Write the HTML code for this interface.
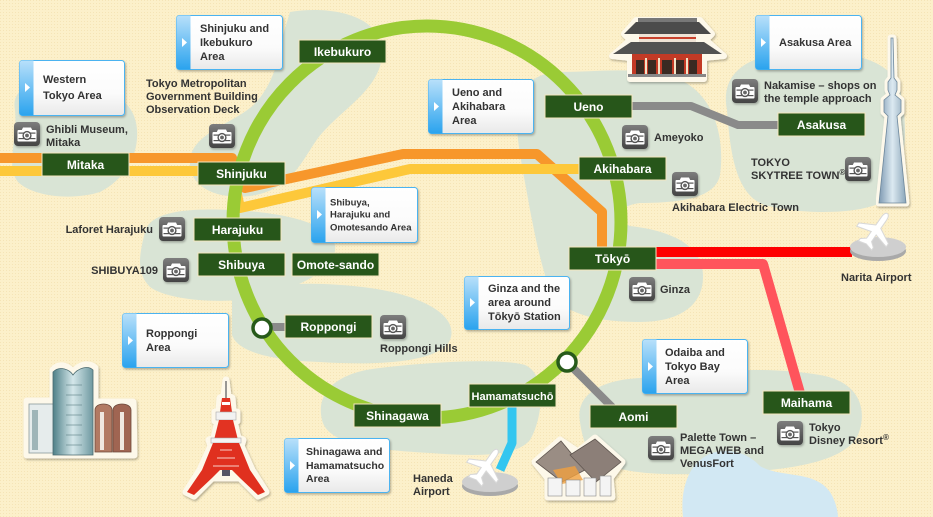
<!DOCTYPE html>
<html><head><meta charset="utf-8"><style>
html,body{margin:0;padding:0;background:#fcefc8;}
svg{display:block;}
text{font-family:"Liberation Sans",Arial,sans-serif;font-weight:bold;}
.st{fill:#fff;font-size:12px;text-anchor:middle;}
.bx{fill:#333;font-size:11px;}
.ds{fill:#333;font-size:11px;}
</style></head><body>
<svg width="933" height="517" viewBox="0 0 933 517" xmlns="http://www.w3.org/2000/svg">
<defs>
 <pattern id="dots" width="3" height="3" patternUnits="userSpaceOnUse"><rect width="3" height="3" fill="#fcf0ca"/><rect width="1" height="1" fill="#f5e4b6"/></pattern>
 <linearGradient id="strip" x1="0" y1="0" x2="0" y2="1"><stop offset="0" stop-color="#b8e0fa"/><stop offset="1" stop-color="#2aa3ee"/></linearGradient>
 <linearGradient id="boxg" x1="0" y1="0" x2="0" y2="1"><stop offset="0" stop-color="#ffffff"/><stop offset="0.6" stop-color="#fbfbfb"/><stop offset="1" stop-color="#e9e9e9"/></linearGradient>
 <linearGradient id="camg" x1="0" y1="0" x2="0" y2="1"><stop offset="0" stop-color="#7d7d7d"/><stop offset="1" stop-color="#434343"/></linearGradient>
 <linearGradient id="sky" x1="0" y1="0" x2="1" y2="0"><stop offset="0" stop-color="#7e9ab2"/><stop offset="0.5" stop-color="#dce9f1"/><stop offset="1" stop-color="#8aa5b9"/></linearGradient>
 <linearGradient id="rh" x1="0" y1="0" x2="1" y2="0"><stop offset="0" stop-color="#4f8088"/><stop offset="0.5" stop-color="#d4e7ea"/><stop offset="1" stop-color="#6e98a0"/></linearGradient>
 <filter id="sh" x="-10%" y="-10%" width="130%" height="140%"><feDropShadow dx="1" dy="1.5" stdDeviation="1" flood-color="#000" flood-opacity="0.28"/></filter>
 <g id="cam">
  <rect width="26" height="24" rx="4" fill="url(#camg)"/>
  <path d="M9,5.5 h8 l1.2,2.5 h3.3 a1,1 0 0 1 1,1 v9.5 a1,1 0 0 1 -1,1 h-17 a1,1 0 0 1 -1,-1 v-9.5 a1,1 0 0 1 1,-1 h3.3 z" fill="#fff"/>
  <rect x="4.5" y="10.5" width="17" height="1.2" fill="#555"/>
  <rect x="4.5" y="16" width="17" height="1.2" fill="#555"/>
  <circle cx="13" cy="13.5" r="4.6" fill="#555"/>
  <circle cx="13" cy="13.5" r="3.2" fill="#fff"/>
  <circle cx="13" cy="13.5" r="1.9" fill="#666"/>
 </g>
 <path id="plane" d="M0,-20 C2,-20 3,-17 3,-14 L3,-4 L18,4 L18,8 L3,4 L3,12 L8,16 L8,19 L0,17 L-8,19 L-8,16 L-3,12 L-3,4 L-18,8 L-18,4 L-3,-4 L-3,-14 C-3,-17 -2,-20 0,-20 Z"/>
</defs>

<rect width="933" height="517" fill="url(#dots)"/>

<!-- blobs -->
<g fill="#d9e4d5">
 <path d="M15,110 C10,85 40,78 70,82 C100,86 135,95 137,130 C139,160 120,182 100,192 C75,200 35,198 18,182 C5,165 18,140 15,110 Z"/>
 <path d="M290,12 C330,5 385,15 382,55 C380,90 340,110 318,138 C302,160 292,190 250,196 C215,200 188,186 190,160 C192,135 228,125 250,108 C270,92 280,60 283,35 Z"/>
 <path d="M145,232 C150,212 185,208 230,210 C280,212 330,222 335,245 C338,270 300,285 270,295 C235,305 170,302 150,287 C135,272 140,252 145,232 Z"/>
 <path d="M232,300 C250,283 310,280 370,288 C420,295 460,315 450,340 C440,362 380,366 320,362 C270,360 238,352 232,335 Z"/>
 <path d="M322,420 C315,390 340,372 380,368 C430,362 500,358 525,365 C548,375 542,420 530,440 C515,458 470,456 430,453 C380,450 328,446 322,420 Z"/>
 <path d="M580,422 C575,395 600,380 640,378 C700,372 760,365 820,375 C860,382 868,410 858,435 C845,462 790,470 730,473 C680,475 640,476 610,466 C587,456 583,442 580,422 Z"/>
 <path d="M517,130 C510,95 530,72 560,72 C600,72 640,65 680,80 C715,95 725,140 720,175 C716,195 690,203 640,203 C618,206 612,218 630,226 C665,230 702,242 703,275 C704,305 680,322 640,322 C600,322 562,315 550,290 C540,262 535,235 530,210 C525,180 520,160 517,130 Z"/>
 <path d="M727,110 C720,75 745,55 790,53 C840,50 890,55 900,90 C910,130 905,175 885,200 C865,215 800,215 765,205 C735,195 730,150 727,110 Z"/>
</g>
<!-- water -->
<path d="M683,517 C680,490 688,462 712,453 C732,447 750,455 760,466 C780,478 815,470 830,492 C838,505 838,517 838,517 Z" fill="#d2e8f3"/>

<!-- rail lines -->
<g fill="none" stroke-linejoin="round">
 <path d="M0,158 L232,158 L245,188 L403,154 L537,154 L602,212 L602,252" stroke="#f7972b" stroke-width="10"/>
 <path d="M0,171 L232,171 L240,208 L410,169 L582,169" stroke="#fdc83a" stroke-width="10"/>
 <path d="M630,106 L691,106 L738,125 L780,125" stroke="#8a8a8a" stroke-width="8"/>
 <path d="M262,327 L290,327" stroke="#8a8a8a" stroke-width="8"/>
 <path d="M567,362 L615,410" stroke="#8a8a8a" stroke-width="8"/>
 <path d="M654,252 L852,252" stroke="#fe0000" stroke-width="10"/>
 <path d="M654,264 L763,264 L800,393" stroke="#ff545c" stroke-width="10"/>
 <path d="M512,405 L512,443 L500,470" stroke="#33c6f0" stroke-width="9"/>
</g>

<!-- ring -->
<ellipse cx="427" cy="222" rx="194" ry="196" fill="none" stroke="#9acb35" stroke-width="13"/>

<!-- station dots -->
<circle cx="262" cy="328" r="9" fill="#fff" stroke="#275a1a" stroke-width="3.5"/>
<circle cx="567" cy="362" r="9" fill="#fff" stroke="#275a1a" stroke-width="3.5"/>

<!-- station labels -->
<g fill="#27561a" stroke="#f4e6bf" stroke-width="1">
 <rect x="299" y="40" width="87" height="23"/>
 <rect x="42" y="153" width="87" height="23"/>
 <rect x="198" y="162" width="87" height="23"/>
 <rect x="545" y="95" width="87" height="23"/>
 <rect x="579" y="157" width="87" height="23"/>
 <rect x="194" y="218" width="87" height="23"/>
 <rect x="198" y="253" width="87" height="23"/>
 <rect x="292" y="253" width="87" height="23"/>
 <rect x="285" y="315" width="87" height="23"/>
 <rect x="569" y="247" width="87" height="23"/>
 <rect x="469" y="384" width="87" height="23"/>
 <rect x="354" y="404" width="87" height="23"/>
 <rect x="590" y="405" width="87" height="23"/>
 <rect x="763" y="391" width="87" height="23"/>
 <rect x="778" y="113" width="87" height="23"/>
</g>
<g class="st">
 <text x="342.5" y="56">Ikebukuro</text>
 <text x="85.5" y="169">Mitaka</text>
 <text x="241.5" y="178">Shinjuku</text>
 <text x="588.5" y="111">Ueno</text>
 <text x="622.5" y="173">Akihabara</text>
 <text x="237.5" y="234">Harajuku</text>
 <text x="241.5" y="269">Shibuya</text>
 <text x="335.5" y="269">Omote-sando</text>
 <text x="328.5" y="331">Roppongi</text>
 <text x="612.5" y="263">Tōkyō</text>
 <text x="512.5" y="400" style="font-size:11px">Hamamatsuchō</text>
 <text x="397.5" y="420">Shinagawa</text>
 <text x="633.5" y="421">Aomi</text>
 <text x="806.5" y="407">Maihama</text>
 <text x="821.5" y="129">Asakusa</text>
</g>

<!-- info boxes -->
<g filter="url(#sh)">
 <g transform="translate(19,60)"><rect x="0.5" y="0.5" width="105" height="55" rx="3" fill="url(#boxg)" stroke="#4cb3f0"/><path d="M0.5,3.5 a3,3 0 0 1 3,-3 h11 v55 h-11 a3,3 0 0 1 -3,-3 z" fill="url(#strip)"/><path d="M6,23 L11,27.5 L6,32 Z" fill="#fff"/></g>
 <g transform="translate(176,15)"><rect x="0.5" y="0.5" width="106" height="54" rx="3" fill="url(#boxg)" stroke="#4cb3f0"/><path d="M0.5,3.5 a3,3 0 0 1 3,-3 h11 v54 h-11 a3,3 0 0 1 -3,-3 z" fill="url(#strip)"/><path d="M6,23 L11,27.5 L6,32 Z" fill="#fff"/></g>
 <g transform="translate(428,79)"><rect x="0.5" y="0.5" width="105" height="54" rx="3" fill="url(#boxg)" stroke="#4cb3f0"/><path d="M0.5,3.5 a3,3 0 0 1 3,-3 h11 v54 h-11 a3,3 0 0 1 -3,-3 z" fill="url(#strip)"/><path d="M6,23 L11,27.5 L6,32 Z" fill="#fff"/></g>
 <g transform="translate(755,15)"><rect x="0.5" y="0.5" width="106" height="54" rx="3" fill="url(#boxg)" stroke="#4cb3f0"/><path d="M0.5,3.5 a3,3 0 0 1 3,-3 h11 v54 h-11 a3,3 0 0 1 -3,-3 z" fill="url(#strip)"/><path d="M6,23 L11,27.5 L6,32 Z" fill="#fff"/></g>
 <g transform="translate(311,187)"><rect x="0.5" y="0.5" width="106" height="55" rx="3" fill="url(#boxg)" stroke="#4cb3f0"/><path d="M0.5,3.5 a3,3 0 0 1 3,-3 h11 v55 h-11 a3,3 0 0 1 -3,-3 z" fill="url(#strip)"/><path d="M6,23 L11,27.5 L6,32 Z" fill="#fff"/></g>
 <g transform="translate(464,276)"><rect x="0.5" y="0.5" width="105" height="53" rx="3" fill="url(#boxg)" stroke="#4cb3f0"/><path d="M0.5,3.5 a3,3 0 0 1 3,-3 h11 v53 h-11 a3,3 0 0 1 -3,-3 z" fill="url(#strip)"/><path d="M6,22 L11,26.5 L6,31 Z" fill="#fff"/></g>
 <g transform="translate(122,313)"><rect x="0.5" y="0.5" width="106" height="54" rx="3" fill="url(#boxg)" stroke="#4cb3f0"/><path d="M0.5,3.5 a3,3 0 0 1 3,-3 h11 v54 h-11 a3,3 0 0 1 -3,-3 z" fill="url(#strip)"/><path d="M6,23 L11,27.5 L6,32 Z" fill="#fff"/></g>
 <g transform="translate(642,339)"><rect x="0.5" y="0.5" width="105" height="54" rx="3" fill="url(#boxg)" stroke="#4cb3f0"/><path d="M0.5,3.5 a3,3 0 0 1 3,-3 h11 v54 h-11 a3,3 0 0 1 -3,-3 z" fill="url(#strip)"/><path d="M6,23 L11,27.5 L6,32 Z" fill="#fff"/></g>
 <g transform="translate(284,438)"><rect x="0.5" y="0.5" width="105" height="54" rx="3" fill="url(#boxg)" stroke="#4cb3f0"/><path d="M0.5,3.5 a3,3 0 0 1 3,-3 h11 v54 h-11 a3,3 0 0 1 -3,-3 z" fill="url(#strip)"/><path d="M6,23 L11,27.5 L6,32 Z" fill="#fff"/></g>
</g>
<g class="bx">
 <text x="43" y="83">Western</text><text x="43" y="99">Tokyo Area</text>
 <text x="200" y="32">Shinjuku and</text><text x="200" y="46">Ikebukuro</text><text x="200" y="60">Area</text>
 <text x="452" y="96">Ueno and</text><text x="452" y="110">Akihabara</text><text x="452" y="124">Area</text>
 <text x="779" y="46">Asakusa Area</text>
 <text x="330" y="205.5" style="font-size:9.5px">Shibuya,</text><text x="330" y="217.5" style="font-size:9.5px">Harajuku and</text><text x="330" y="230.5" style="font-size:9.5px">Omotesando Area</text>
 <text x="488" y="292">Ginza and the</text><text x="488" y="306">area around</text><text x="488" y="320">Tōkyō Station</text>
 <text x="146" y="337">Roppongi</text><text x="146" y="351">Area</text>
 <text x="665" y="356">Odaiba and</text><text x="665" y="370">Tokyo Bay</text><text x="665" y="384">Area</text>
 <text x="306" y="455" style="font-size:10.5px">Shinagawa and</text><text x="306" y="469" style="font-size:10.5px">Hamamatsucho</text><text x="306" y="482" style="font-size:10.5px">Area</text>
</g>

<!-- cameras -->
<g filter="url(#sh)">
 <use href="#cam" x="14" y="122"/>
 <use href="#cam" x="209" y="124"/>
 <use href="#cam" x="622" y="125"/>
 <use href="#cam" x="672" y="172"/>
 <use href="#cam" x="732" y="79"/>
 <use href="#cam" x="845" y="157"/>
 <use href="#cam" x="159" y="217"/>
 <use href="#cam" x="163" y="258"/>
 <use href="#cam" x="380" y="315"/>
 <use href="#cam" x="629" y="277"/>
 <use href="#cam" x="648" y="436"/>
 <use href="#cam" x="777" y="421"/>
</g>

<!-- descriptions -->
<g class="ds">
 <text x="146" y="87">Tokyo Metropolitan</text><text x="146" y="100">Government Building</text><text x="146" y="113">Observation Deck</text>
 <text x="46" y="133">Ghibli Museum,</text><text x="46" y="146">Mitaka</text>
 <text x="764" y="89">Nakamise – shops on</text><text x="764" y="102">the temple approach</text>
 <text x="654" y="141">Ameyoko</text>
 <text x="751" y="166">TOKYO</text><text x="751" y="179">SKYTREE TOWN<tspan font-size="8" dy="-4">®</tspan></text>
 <text x="672" y="211">Akihabara Electric Town</text>
 <text x="153" y="233" text-anchor="end">Laforet Harajuku</text>
 <text x="158" y="274" text-anchor="end">SHIBUYA109</text>
 <text x="380" y="352">Roppongi Hills</text>
 <text x="660" y="293">Ginza</text>
 <text x="841" y="281">Narita Airport</text>
 <text x="413" y="482">Haneda</text><text x="413" y="495">Airport</text>
 <text x="680" y="441">Palette Town –</text><text x="680" y="454">MEGA WEB and</text><text x="680" y="467">VenusFort</text>
 <text x="809" y="431">Tokyo</text><text x="809" y="444">Disney Resort<tspan font-size="8" dy="-4">®</tspan></text>
</g>

<!-- Kaminarimon -->
<g>
 <path d="M612,56 L630,40 L624,34 L636,20 L700,20 L712,34 L706,40 L724,56 L704,58 L704,79 L630,79 L630,58 Z" fill="#fdf8ea" stroke="#fdf8ea" stroke-width="6" stroke-linejoin="round" filter="url(#sh)"/>
 <rect x="638" y="18" width="59" height="4" fill="#777"/>
 <path d="M624,34 L711,34 L699,22 L636,22 Z" fill="#4b4b4b"/>
 <rect x="639" y="34" width="57" height="9" fill="#efe3d6"/>
 <rect x="639" y="37" width="57" height="2" fill="#c9412c"/>
 <path d="M613,54 L722,54 L704,42 L631,42 Z" fill="#525252"/>
 <rect x="632" y="54" width="70" height="21" fill="#c23a26"/>
 <g fill="#3a2a22"><rect x="636" y="60" width="8" height="14"/><rect x="648" y="60" width="8" height="14"/><rect x="662" y="60" width="10" height="14"/><rect x="676" y="60" width="8" height="14"/><rect x="689" y="60" width="8" height="14"/></g>
 <g fill="#f1e4c8"><rect x="645" y="58" width="2" height="16"/><rect x="658" y="58" width="2" height="16"/><rect x="674" y="58" width="2" height="16"/><rect x="686" y="58" width="2" height="16"/></g>
 <rect x="628" y="74" width="78" height="3" fill="#888"/>
</g>

<!-- Skytree -->
<g>
 <path d="M891,38 L893,38 L894,78 L897,82 L897,90 L895,95 L901,100 L901,112 L897,116 L906,203 L879,203 L888,116 L884,112 L884,100 L890,95 L888,90 L888,82 L891,78 Z" fill="#fdf8ea" stroke="#fdf8ea" stroke-width="7" stroke-linejoin="round" filter="url(#sh)"/>
 <path d="M891,38 L893,38 L894,78 L897,82 L897,90 L895,95 L901,100 L901,112 L897,116 L906,203 L879,203 L888,116 L884,112 L884,100 L890,95 L888,90 L888,82 L891,78 Z" fill="url(#sky)" stroke="#6d879c" stroke-width="0.8"/>
</g>

<!-- Narita airport -->
<g>
 <ellipse cx="878" cy="251" rx="28" ry="10" fill="#a9a9a9"/>
 <ellipse cx="878" cy="247" rx="28" ry="10" fill="#cfcfcf"/>
 <use href="#plane" transform="translate(876,230) rotate(35)" fill="#fff" stroke="#d8d8d8" stroke-width="1"/>
</g>

<!-- Haneda airport -->
<g>
 <ellipse cx="490" cy="486" rx="28" ry="10" fill="#a9a9a9"/>
 <ellipse cx="490" cy="482" rx="28" ry="10" fill="#cfcfcf"/>
 <use href="#plane" transform="translate(486,466) rotate(35)" fill="#fff" stroke="#d8d8d8" stroke-width="1"/>
</g>

<!-- Roppongi Hills -->
<g>
 <path d="M27,401 L53,401 L53,370 C60,362 70,367 73,373 C78,365 88,362 95,368 L95,402 L133,402 L134,455 L27,455 Z" fill="#fdf8ea" stroke="#fdf8ea" stroke-width="7" stroke-linejoin="round" filter="url(#sh)"/>
 <rect x="29" y="404" width="25" height="49" fill="#e6ecec" stroke="#8a9a9c" stroke-width="0.8"/>
 <rect x="32" y="410" width="6" height="40" fill="#9fb5b8"/>
 <path d="M53,372 C60,365 70,370 73,375 C78,368 88,365 93,370 L93,455 L53,455 Z" fill="url(#rh)" stroke="#4a6a70" stroke-width="0.8"/>
 <g stroke="#5c7e84" stroke-width="0.6"><line x1="66" y1="385" x2="82" y2="385"/><line x1="66" y1="395" x2="82" y2="395"/><line x1="66" y1="405" x2="82" y2="405"/><line x1="66" y1="415" x2="82" y2="415"/><line x1="66" y1="425" x2="82" y2="425"/><line x1="66" y1="435" x2="82" y2="435"/><line x1="66" y1="445" x2="82" y2="445"/></g>
 <path d="M95,452 L95,410 C95,402 112,402 112,410 L112,452 Z" fill="#b27a63" stroke="#6d4a3c" stroke-width="0.8"/>
 <path d="M113,452 L113,410 C113,402 131,402 131,410 L131,452 Z" fill="#a06552" stroke="#6d4a3c" stroke-width="0.8"/>
 <rect x="100" y="412" width="4" height="38" fill="#f0e8e0"/><rect x="120" y="412" width="4" height="38" fill="#f0e8e0"/>
</g>

<!-- Tokyo Tower -->
<g>
 <path d="M226,380 L228,396 L232,398 L233,411 L237,412 L237,421 L234,421 L238,438 L243,440 L241,446 L252,470 L266,492 L258,496 L240,478 L212,478 L194,496 L186,492 L200,470 L211,446 L209,440 L214,438 L218,421 L215,421 L215,412 L219,411 L220,398 L224,396 Z" fill="#fdf8ea" stroke="#fdf8ea" stroke-width="7" stroke-linejoin="round" filter="url(#sh)"/>
 <line x1="226" y1="381" x2="226" y2="398" stroke="#777" stroke-width="1.5"/>
 <path d="M222,398 L230,398 L232,412 L220,412 Z" fill="#e23322"/>
 <rect x="222" y="402" width="8" height="3" fill="#fff"/>
 <rect x="216" y="412" width="20" height="8" fill="#f2f2f2" stroke="#aaa" stroke-width="0.6"/>
 <path d="M219,420 L233,420 L238,440 L214,440 Z" fill="#e23322"/>
 <rect x="211" y="438" width="30" height="5" fill="#f4f4f4" stroke="#aaa" stroke-width="0.6"/>
 <path d="M213,443 L239,443 L250,470 L265,492 L258,495 L240,478 L232,470 L220,470 L212,478 L194,495 L187,492 L202,470 Z" fill="#e0301f"/>
 <path d="M220,450 L232,450 M217,458 L235,458 M213,466 L239,466" stroke="#f7d0c8" stroke-width="1"/>
 <rect x="222" y="470" width="8" height="6" fill="#556"/>
</g>

<!-- Big Sight -->
<g>
 <path d="M535,462 L560,440 L578,452 L595,438 L622,462 L610,478 L612,497 L548,497 L548,478 Z" fill="#fdf8ea" stroke="#fdf8ea" stroke-width="7" stroke-linejoin="round" filter="url(#sh)"/>
 <path d="M536,462 L561,441 L585,470 L562,482 Z" fill="#9a8d84" stroke="#5e544e" stroke-width="0.8"/>
 <path d="M570,455 L595,439 L621,462 L596,482 Z" fill="#8c7f78" stroke="#5e544e" stroke-width="0.8"/>
 <path d="M553,470 L575,466 L583,480 L562,484 Z" fill="#f0a040" opacity="0.8"/>
 <g fill="#f4f4f4" stroke="#888" stroke-width="0.6"><rect x="548" y="478" width="14" height="18"/><rect x="566" y="480" width="14" height="16"/><rect x="584" y="478" width="12" height="18"/><rect x="600" y="476" width="11" height="20"/></g>
</g>
</svg>
</body></html>
